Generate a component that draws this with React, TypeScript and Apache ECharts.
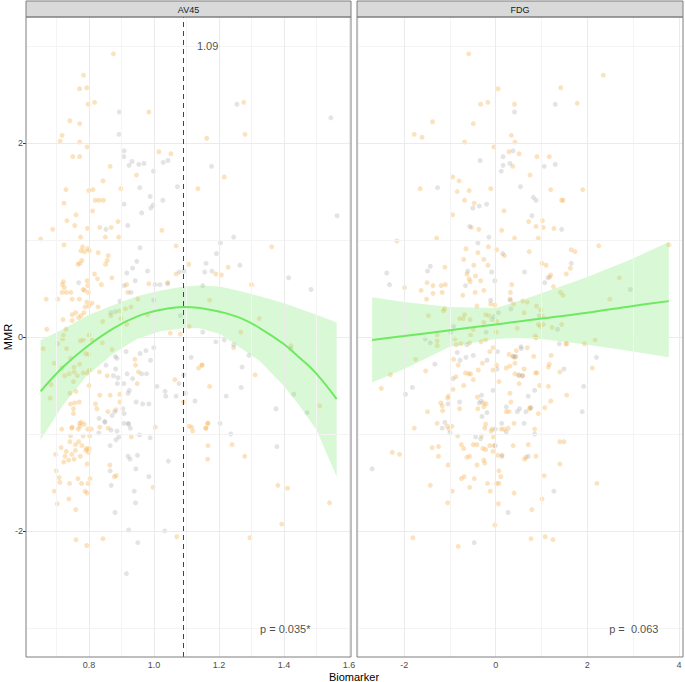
import React, { useEffect, useRef } from "react";
import * as echarts from "echarts";

// ---------- data ----------
const av45Orange: number[][] = [
  [0.875,2.92],[0.783,2.70],[0.771,2.56],[0.793,2.57],[0.797,2.40],[0.817,2.42],[0.984,2.32],[0.741,2.23],[0.771,2.20],[0.717,2.08],[0.711,2.02],[0.771,2.01],[0.794,1.96],[0.750,1.86],[0.771,1.86],[1.015,1.91],[1.052,1.89],[1.162,2.05],[0.865,1.76],[0.843,1.61],[0.946,1.67],[0.729,1.52],[0.812,1.52],[0.799,1.51],[0.898,1.53],[1.135,1.53],[0.723,1.38],[0.819,1.41],[0.831,1.41],[0.844,1.41],[0.811,1.30],[0.760,1.26],[0.732,1.20],[0.756,1.15],[0.889,1.19],[0.688,1.11],[0.833,1.13],[0.868,1.13],[0.795,1.12],[1.024,1.10],[0.774,1.03],[0.850,1.03],[0.891,1.03],[0.651,1.01],
  [1.276,2.42],[1.280,2.09],[1.216,1.65],[1.362,0.93],[1.190,0.65],[1.207,0.64],[1.228,0.72],[1.300,0.54],[1.171,0.38],[1.324,0.19],[1.267,0.05],
  [1.245,-0.11],[1.421,-0.09],[1.148,-0.29],[1.311,-0.39],[1.171,-0.51],[1.510,-0.71],[1.166,-0.89],[1.160,-0.94],[1.166,-1.12],[1.240,-1.11],[1.279,-1.23],[1.165,-1.26],[1.381,-1.53],[1.411,-1.56],[1.540,-1.71],[1.393,-1.93],[1.295,-2.07],
  [0.716,-0.95],[0.747,-0.94],[0.771,-0.89],[0.785,-0.90],[0.767,-0.95],[0.796,-0.95],[0.807,-0.95],[0.802,-1.02],[0.782,-1.02],[0.833,-0.93],[0.859,-0.94],[1.004,-0.93],[0.930,-1.03],[0.743,-1.02],[0.741,-1.08],[0.758,-1.11],[0.768,-1.08],[0.778,-1.12],[0.792,-1.15],[0.800,-1.15],[0.798,-1.19],[0.790,-1.17],[0.714,-1.14],[0.730,-1.18],[0.697,-1.21],[0.726,-1.23],[0.747,-1.21],[0.758,-1.17],[0.737,-1.27],[0.722,-1.29],[0.754,-1.26],[0.773,-1.23],[0.794,-1.31],[0.864,-1.32],[0.699,-1.38],[0.708,-1.45],[0.710,-1.50],[0.740,-1.51],[0.766,-1.46],[0.777,-1.51],[0.797,-1.51],[0.803,-1.46],[0.878,-1.44],[0.884,-1.43],[0.997,-1.55],[0.693,-1.59],[0.788,-1.59],[0.794,-1.61],[0.702,-1.72],[0.738,-1.67],[0.759,-1.78],[1.070,-2.06],[0.760,-2.09],[0.843,-2.08],[0.793,-2.15],[1.108,-0.92],[1.116,-0.93],[1.119,-0.97],[1.159,-0.94],[1.165,-0.89],
  [0.723,0.95],[0.775,0.89],[0.786,0.88],[0.796,0.91],[0.801,0.89],[0.780,0.93],[0.828,0.87],[0.859,0.84],[0.856,0.79],[0.778,0.79],[0.766,0.75],[0.772,0.76],[0.851,0.75],[1.068,0.94],[1.107,0.75],[0.817,0.65],[0.826,0.60],[0.838,0.54],[0.794,0.58],[0.796,0.53],[0.782,0.49],[0.798,0.46],[0.721,0.57],[0.718,0.54],[0.717,0.46],[0.730,0.46],[0.744,0.46],[0.724,0.51],[0.704,0.39],[0.668,0.39],[0.748,0.39],[0.770,0.39],[0.786,0.48],[0.870,0.61],[0.916,0.54],[0.984,0.55],[0.919,0.46],[1.042,0.56],[1.068,0.65],[0.793,0.36],[0.809,0.35],[0.800,0.32],[0.828,0.31],[0.788,0.31],[0.784,0.25],[0.775,0.22],[0.768,0.20],[0.759,0.25],[0.748,0.23],[0.748,0.17],[0.720,0.18],[0.729,0.08],[0.670,0.08],[0.893,0.27],[0.912,0.29],[0.867,0.22],[0.842,0.16],[0.929,0.31],[0.898,0.19],[0.916,0.13],[0.950,0.39],[0.980,0.23],[0.721,0.02],[0.719,-0.02],[0.704,-0.07],[0.731,-0.12],[0.773,-0.04],[0.782,-0.03],[0.800,0.02],[0.809,-0.03],[0.659,-0.12],[0.693,-0.27],[0.716,-0.32],[0.683,-0.49],[0.680,-0.63],[0.743,-0.22],[0.754,-0.31],[0.771,-0.28],[0.764,-0.40],[0.754,-0.36],[0.739,-0.38],[0.725,-0.40],[0.752,-0.46],[0.782,-0.37],[0.795,-0.37],[0.801,-0.34],[0.789,-0.17],[0.798,-0.18],[0.841,-0.06],[0.871,-0.13],[0.832,-0.36],[0.856,-0.40],[0.941,-0.23],[0.943,-0.29],[0.948,-0.48],[0.800,-0.50],[0.760,-0.56],[0.741,-0.58],[0.833,-0.60],[0.865,-0.60],[0.770,-0.67],[0.756,-0.68],[0.743,-0.69],[0.752,-0.79],[0.752,-0.74],[0.820,-0.69],[0.824,-0.74],[0.858,-0.77],[0.883,-0.75],[0.776,-0.88],[0.748,-0.93],[0.772,-0.92],[0.895,-0.59],[0.895,-0.67],[0.952,-0.36],[1.064,-0.44],[1.137,-0.32],[1.147,-0.29],[1.090,-0.67],[1.081,0.03],[1.050,0.04],[1.108,0.11],
];

const av45Gray: number[][] = [
  [0.893,2.32],[0.892,2.09],[0.908,1.92],[0.907,1.86],[0.932,1.81],[0.923,1.77],[0.953,1.78],[0.969,1.79],[1.028,1.80],[1.043,1.82],[1.177,1.76],[0.998,1.71],[0.956,1.54],[1.072,1.55],[0.908,1.37],[0.988,1.45],[0.997,1.36],[0.990,1.33],[1.027,1.41],[0.962,1.28],[0.919,1.15],[0.852,1.11],
  [1.255,2.40],[1.544,2.26],[1.563,1.25],[1.245,1.03],[1.204,0.97],[1.192,0.86],[1.160,0.76],[1.156,0.67],[1.264,0.74],[1.414,0.61],[1.483,0.49],[1.150,0.05],
  [1.190,-0.05],[1.216,-0.03],[1.245,-0.08],[1.292,-0.19],[1.421,-0.12],[1.271,-0.31],[1.268,-0.52],[1.222,-0.61],[1.430,-0.59],[1.375,-0.74],[1.471,-0.78],[1.203,-0.89],[1.236,-1.00],[1.378,-1.13],
  [0.849,-0.88],[0.907,-0.89],[0.922,-0.90],[0.927,-0.94],[0.830,-0.99],[0.868,-0.96],[0.886,-0.97],[0.955,-1.01],[0.988,-1.04],[0.892,-1.03],[0.883,-1.06],[0.865,-1.12],[0.926,-1.26],[0.920,-1.23],[0.949,-1.22],[1.044,-1.28],[0.865,-1.38],[0.944,-1.36],[0.984,-1.44],[0.868,-1.53],[0.939,-1.59],[0.943,-1.71],[0.880,-1.81],[0.922,-1.99],[1.033,-2.00],[0.950,-2.12],[0.915,-2.44],
  [0.957,0.92],[0.947,0.78],[0.934,0.71],[0.916,0.66],[0.980,0.68],[0.942,0.58],[0.908,0.53],[0.929,0.46],[0.895,0.37],[0.867,0.25],[0.881,0.26],[0.768,0.56],[1.003,0.54],[1.018,0.54],[1.042,0.55],[1.078,0.67],[1.092,0.68],[1.178,0.68],[1.150,0.53],[0.999,0.38],[1.081,0.22],[0.881,-0.20],[0.886,-0.22],[0.914,-0.15],[0.957,-0.17],[0.975,-0.14],[0.999,-0.11],[0.989,-0.24],[0.852,-0.29],[0.875,-0.40],[0.882,-0.33],[0.889,-0.42],[0.917,-0.38],[0.934,-0.43],[0.962,-0.38],[0.977,-0.38],[0.907,-0.48],[0.887,-0.48],[0.924,-0.55],[0.920,-0.58],[1.009,-0.51],[1.034,-0.56],[1.036,-0.61],[1.068,-0.61],[0.965,-0.69],[0.984,-0.69],[0.945,-0.67],[1.097,-0.58],[1.126,-0.66],[0.879,-0.77],[0.871,-0.81],[0.904,-0.74],[0.908,-0.79],[0.920,-0.89],[0.848,-0.87],[0.831,-0.84],[1.114,-0.21],[1.091,-0.39],[1.077,-0.48],
];

const fdgOrange: number[][] = [
  [-0.59,2.92],[0.05,2.56],[-0.33,2.40],[-0.17,2.42],[0.41,2.40],[-1.38,2.22],[-0.49,2.20],[-1.78,2.09],[-1.61,2.06],[-0.68,2.01],[0.34,2.08],[0.42,2.01],[-0.04,1.96],[0.29,1.91],[0.51,1.89],[0.37,1.76],[-0.94,1.65],[-0.80,1.61],[-1.65,1.53],[-0.84,1.50],[-0.58,1.51],[-0.11,1.53],[-0.68,1.41],[-0.47,1.38],[-0.94,1.26],[0.18,1.30],[-0.53,1.13],[-0.37,1.11],[0.13,1.10],[-2.16,0.99],[-1.29,1.02],[0.41,1.02],[-0.65,0.91],[-0.16,0.93],[0.02,0.90],[0.19,0.84],[-0.39,0.87],[-0.70,0.80],[-0.26,0.80],[-0.48,0.74],[-0.17,0.74],[-1.11,0.72],[-0.63,0.65],[-0.58,0.60],[-0.56,0.57],[-0.44,0.63],[-0.33,0.58],[-1.50,0.56],[-1.37,0.53],[-1.19,0.53],[-1.10,0.54],[-1.99,0.51],[-1.63,0.48],[-1.37,0.45],[-1.17,0.46],[-1.51,0.39],[-0.72,0.43],[-0.45,0.46],[-0.26,0.48],[-0.41,0.32],[0.35,0.54],[0.32,0.46],[-1.12,0.29],[-1.14,0.27],[-1.47,0.22],[-0.68,0.23],[-0.79,0.19],[-0.71,0.19],[-0.56,0.18],[-0.22,0.23],[-0.15,0.22],[-0.26,0.15],[-0.11,0.34],[-0.02,0.33],[0.02,0.16],[0.31,0.39],[0.39,0.34],[0.47,0.09],[0.01,0.05],[-0.49,0.08],[-0.55,0.02],[-1.28,0.02],
  [2.35,2.70],[1.42,2.57],[1.78,2.41],[0.90,1.86],[1.17,1.86],[0.75,1.67],[1.20,1.52],[1.90,1.52],[1.44,1.41],[1.47,1.41],[0.72,1.19],[0.88,1.14],[1.02,1.20],[1.04,1.13],[1.27,1.12],[0.93,1.02],[2.25,0.94],[3.78,0.95],[0.73,0.88],[1.65,0.90],[1.73,0.88],[1.01,0.76],[1.10,0.74],[1.63,0.71],[1.20,0.64],[1.18,0.62],[1.54,0.65],[1.26,0.52],[2.70,0.61],[2.49,0.39],[1.41,0.46],[1.47,0.43],[0.59,0.37],[0.69,0.36],[0.89,0.32],[0.62,0.25],[0.98,0.28],[1.03,0.21],[0.93,0.13],[0.97,0.11],[1.04,0.13],[1.23,0.10],[1.44,0.13],[0.86,0.01],
  [-1.28,-0.04],[-1.28,-0.09],[-0.89,-0.02],[-0.86,-0.08],[-0.76,-0.07],[-0.57,-0.06],[-0.32,-0.05],[-0.22,-0.03],[-1.75,-0.23],[-1.53,-0.35],[-2.30,-0.39],[-2.50,-0.53],[-0.92,-0.23],[-0.82,-0.29],[-0.87,-0.41],[-0.93,-0.54],[-0.70,-0.50],[-0.49,-0.44],[-0.66,-0.37],[-0.59,-0.38],[-0.55,-0.38],[-0.13,-0.15],[-0.06,-0.11],[-0.29,-0.27],[0.02,-0.29],[-0.06,-0.34],[-0.38,-0.34],[0.07,-0.46],[0.29,-0.18],[0.45,-0.14],[0.69,-0.11],[0.42,-0.21],[0.37,-0.20],[0.31,-0.30],[0.23,-0.32],[0.42,-0.27],[0.62,-0.33],[0.50,-0.40],[0.59,-0.40],[0.42,-0.38],[0.51,-0.48],[0.88,-0.01],[0.83,-0.20],[0.90,-0.37],[0.87,-0.37],[1.21,-0.19],[1.17,-0.28],[1.15,-0.31],[1.40,-0.36],[1.55,-0.07],[1.53,-0.07],[1.94,-0.07],[2.17,-0.03],[2.11,-0.32],[0.96,-0.50],[1.15,-0.51],[1.55,-0.60],[1.20,-0.66],[0.31,-0.58],[0.33,-0.67],[0.23,-0.77],[0.29,-0.77],[0.40,-0.89],[0.74,-0.74],[0.93,-0.79],[1.07,-0.73],[0.85,-0.95],[0.75,-0.73],[-1.03,-0.61],[-1.05,-0.63],[-1.20,-0.68],[-1.17,-0.71],[-1.16,-0.76],[-1.49,-0.77],[-1.06,-0.92],[-1.02,-0.95],[-0.96,-0.92],[-1.28,-0.89],[-0.83,-1.02],[-0.79,-0.74],[-0.40,-0.62],[-0.27,-0.68],[-0.21,-0.69],[-0.26,-0.72],[-0.39,-0.74],[-0.22,-0.90],[-0.24,-0.94],[-0.31,-1.02],[-0.08,-0.95],[-0.10,-0.97],[-0.05,-1.03],[-0.04,-1.12],[-0.13,-1.12],[0.12,-0.95],[0.18,-0.95],[0.27,-0.94],[-1.78,-0.94],[-1.39,-1.14],[-1.25,-1.13],[-1.25,-1.23],[-0.75,-1.11],[-0.70,-1.15],[-0.63,-1.24],[-0.57,-1.23],[-0.49,-1.11],[-0.41,-1.11],[-0.28,-1.15],[-0.22,-1.16],[-0.41,-1.32],[-0.26,-1.27],[-0.24,-1.30],[-0.06,-1.18],[0.04,-1.22],[0.13,-1.23],[0.38,-1.12],[0.71,-1.11],[0.63,-1.26],[0.66,-1.24],[0.88,-1.23],[1.40,-1.08],[1.49,-1.08],[1.40,-1.31],[-2.10,-1.21],[-2.26,-1.19],[-1.43,-1.53],[-1.04,-1.32],[-0.75,-1.46],[-0.69,-1.44],[-0.47,-1.46],[-0.57,-1.55],[-0.18,-1.51],[0.02,-1.51],[0.07,-1.51],[0.07,-1.38],[0.11,-1.44],[-0.12,-1.59],[-0.95,-1.59],[-1.05,-1.71],[0.40,-1.61],[0.06,-1.72],[-0.02,-1.94],[0.79,-1.78],[1.06,-1.43],[1.01,-1.67],[2.21,-1.51],[-1.81,-2.07],[-0.82,-2.16],[0.77,-2.08],[1.08,-2.06],[1.25,-2.09],
];

const fdgGray: number[][] = [
  [0.41,2.32],[-0.34,1.82],[0.16,1.86],[0.16,1.77],[0.31,1.79],[0.12,1.71],[0.38,1.92],[-1.27,1.54],[0.54,1.55],[-0.50,1.33],[-0.36,1.35],[-0.20,1.37],[-0.57,1.14],[-0.15,1.03],[-0.39,0.97],[0.15,0.86],[-1.43,0.73],[-1.49,0.68],[-0.61,0.68],[-0.09,0.67],[-0.02,0.58],[-0.66,0.53],[-2.38,0.66],[-2.32,0.54],[-0.11,0.38],[0.32,0.38],[0.33,0.29],[0.06,0.25],[-0.04,0.21],[-0.08,0.18],[-0.92,0.11],[-0.98,0.05],[-0.21,0.05],
  [1.30,2.40],[1.06,1.76],[1.30,1.78],[0.82,1.44],[0.88,1.41],[0.79,1.25],[1.44,1.11],[0.63,0.67],[1.65,0.76],[1.07,0.56],[1.14,0.61],[2.94,0.49],[0.95,0.22],[1.35,0.08],
  [-0.84,-0.16],[-0.63,-0.08],[-0.49,-0.19],[-0.65,-0.21],[-0.19,-0.24],[0.04,-0.15],[-0.06,-0.55],[0.03,-0.33],[-0.78,-0.24],[-0.93,-0.43],[-1.33,-0.28],[-1.43,-0.06],[-1.54,-0.02],[-1.97,-0.59],[-1.82,-0.52],[0.55,-0.10],[0.56,-0.12],[0.39,-0.20],[0.44,-0.20],[0.51,-0.39],[0.58,-0.40],[1.39,-0.07],[1.49,-0.33],[2.20,-0.21],[1.92,-0.51],[0.85,-0.55],[0.71,-0.61],[-0.31,-0.60],[-0.32,-0.66],[-0.36,-0.68],[-0.30,-0.82],[-0.19,-0.78],[-0.79,-0.67],[-1.04,-0.69],[-1.11,-0.88],[-1.17,-0.94],[-1.00,-0.99],[0.23,-0.72],[0.52,-0.74],[0.47,-0.77],[0.66,-0.77],[0.77,-0.73],[0.62,-0.89],[0.85,-1.00],[0.13,-0.89],[0.14,-1.22],[0.23,-0.98],[-0.01,-0.95],[-0.01,-1.12],[-0.33,-1.05],[-0.44,-1.03],[0.71,-1.23],[1.89,-0.77],[1.27,-1.59],[0.27,-1.81],[-0.47,-2.12],[-2.70,-1.36],
];

// smooth fits
const av45FitX = [0.651, 0.72, 0.793, 0.875, 0.947, 1.02, 1.09, 1.141, 1.203, 1.27, 1.326, 1.398, 1.45, 1.5, 1.562];
const av45Fit = [-0.56, -0.31, -0.10, 0.09, 0.21, 0.28, 0.31, 0.30, 0.26, 0.19, 0.09, -0.07, -0.22, -0.38, -0.64];
const av45Upper = [-0.03, 0.08, 0.22, 0.33, 0.42, 0.48, 0.52, 0.53, 0.52, 0.47, 0.42, 0.35, 0.29, 0.23, 0.15];
const av45Lower = [-1.06, -0.70, -0.40, -0.17, -0.02, 0.06, 0.09, 0.09, 0.03, -0.12, -0.25, -0.50, -0.72, -0.96, -1.44];

const fdgFitX = [-2.70, -2.0, -1.0, 0, 0.5, 1.0, 2.0, 3.0, 3.78];
const fdgFit = [-0.03, 0.01, 0.07, 0.13, 0.16, 0.19, 0.25, 0.32, 0.37];
const fdgUpper = [0.41, 0.36, 0.31, 0.30, 0.37, 0.45, 0.62, 0.81, 0.98];
const fdgLower = [-0.47, -0.33, -0.10, -0.02, -0.01, -0.02, -0.08, -0.15, -0.21];

// axes
const av45XTicks = [0.8, 1.0, 1.2, 1.4, 1.6];
const av45XMinor = [0.7, 0.9, 1.1, 1.3, 1.5];
const fdgXTicks = [-2, 0, 2, 4];
const fdgXMinor = [-3, -1, 1, 3];
const yTicks = [-2, 0, 2];
const yMinor = [-3, -1, 1, 3];
const threshold = 1.09;
const pLabels = ["p = 0.035*", "p =  0.063"];
const panelNames = ["AV45", "FDG"];

const FONT = "'Liberation Sans', Arial, Helvetica, sans-serif";
const ORANGE = "rgba(245,168,60,0.4)";
const GRAY = "rgba(150,150,150,0.32)";
const GREEN = "#6FE862";
const BAND = "rgba(130,235,120,0.3)";

const P = [
  { left: 26, top: 17, width: 325, height: 640 },
  { left: 357, top: 17, width: 326, height: 640 },
];

function gridLines(idx: number, xMajor: number[], xMinor: number[]) {
  const maj = { color: "#EBEBEB", width: 1, type: "solid" };
  const min = { color: "#F4F4F4", width: 1, type: "solid" };
  return {
    type: "line",
    xAxisIndex: idx,
    yAxisIndex: idx,
    data: [],
    z: 1,
    silent: true,
    markLine: {
      silent: true,
      symbol: ["none", "none"],
      label: { show: false },
      animation: false,
      data: [
        ...xMinor.map((v) => ({ xAxis: v, lineStyle: min })),
        ...yMinor.map((v) => ({ yAxis: v, lineStyle: min })),
        ...xMajor.map((v) => ({ xAxis: v, lineStyle: maj })),
        ...yTicks.map((v) => ({ yAxis: v, lineStyle: maj })),
      ],
    },
  };
}

function band(idx: number, xs: number[], lo: number[], hi: number[]) {
  return {
    type: "custom",
    xAxisIndex: idx,
    yAxisIndex: idx,
    z: 4,
    silent: true,
    data: xs.map((x, i) => [x, lo[i], hi[i]]),
    encode: { x: 0, y: [1, 2] },
    renderItem: (params: any, api: any) => {
      if (params.dataIndex !== 0) return null;
      const top = xs.map((x, i) => api.coord([x, hi[i]]));
      const bot = xs.map((x, i) => api.coord([x, lo[i]])).reverse();
      return { type: "polygon", shape: { points: top.concat(bot) }, style: { fill: BAND } };
    },
  };
}

function fit(idx: number, xs: number[], ys: number[]) {
  return {
    type: "line",
    xAxisIndex: idx,
    yAxisIndex: idx,
    z: 5,
    silent: true,
    data: xs.map((x, i) => [x, ys[i]]),
    showSymbol: false,
    smooth: 0.4,
    lineStyle: { color: GREEN, width: 2 },
  };
}

function pts(idx: number, data: number[][], color: string) {
  return {
    type: "scatter",
    xAxisIndex: idx,
    yAxisIndex: idx,
    z: 3,
    silent: true,
    symbolSize: 5,
    data,
    itemStyle: { color },
  };
}

function textAt(idx: number, x: number, y: number, text: string) {
  return {
    type: "scatter",
    xAxisIndex: idx,
    yAxisIndex: idx,
    z: 7,
    silent: true,
    symbolSize: 0,
    data: [[x, y]],
    label: {
      show: true,
      position: "right",
      distance: 0,
      formatter: text,
      color: "#1A1A1A",
      fontSize: 11,
      fontFamily: FONT,
    },
  };
}

function xAxis(idx: number, min: number, max: number, ticks: number[], dec: number) {
  return {
    type: "value",
    gridIndex: idx,
    min,
    max,
    axisLine: { show: false },
    splitLine: { show: false },
    axisTick: { show: true, length: 3, lineStyle: { color: "#333333", width: 1 }, customValues: ticks },
    axisLabel: {
      customValues: ticks,
      formatter: (v: number) => v.toFixed(dec),
      color: "#4D4D4D",
      fontSize: 9,
      fontFamily: FONT,
      margin: 3,
    },
  };
}

function yAxis(idx: number, labels: boolean) {
  return {
    type: "value",
    gridIndex: idx,
    min: -3.3,
    max: 3.3,
    axisLine: { show: false },
    splitLine: { show: false },
    axisTick: { show: labels, length: 3, lineStyle: { color: "#333333", width: 1 }, customValues: yTicks },
    axisLabel: {
      show: labels,
      customValues: yTicks,
      formatter: (v: number) => String(v),
      color: "#4D4D4D",
      fontSize: 9,
      fontFamily: FONT,
      margin: 3,
    },
  };
}

export default function App() {
  const ref = useRef<HTMLDivElement>(null);
  useEffect(() => {
    if (!ref.current) return;
    const chart = echarts.init(ref.current, null, { renderer: "svg" });
    const graphics: any[] = [];
    P.forEach((p, i) => {
      graphics.push({
        type: "rect",
        z: 100,
        silent: true,
        shape: { x: p.left, y: 1, width: p.width, height: 16 },
        style: { fill: "#D9D9D9", stroke: "#7F7F7F", lineWidth: 1 },
      });
      graphics.push({
        type: "text",
        z: 101,
        silent: true,
        style: {
          x: p.left + p.width / 2,
          y: 9.5,
          text: panelNames[i],
          align: "center",
          verticalAlign: "middle",
          fill: "#1A1A1A",
          font: `9px ${FONT}`,
        },
      });
      graphics.push({
        type: "rect",
        z: 100,
        silent: true,
        shape: { x: p.left, y: p.top, width: p.width, height: p.height },
        style: { fill: "none", stroke: "#7F7F7F", lineWidth: 1 },
      });
    });
    graphics.push({
      type: "text",
      z: 101,
      silent: true,
      x: 8,
      y: 337,
      rotation: Math.PI / 2,
      style: { x: 0, y: 0, text: "MMR", align: "center", verticalAlign: "middle", fill: "#000", font: `11px ${FONT}` },
    });
    graphics.push({
      type: "text",
      z: 101,
      silent: true,
      style: { x: 354, y: 677, text: "Biomarker", align: "center", verticalAlign: "middle", fill: "#000", font: `11px ${FONT}` },
    });

    chart.setOption({
      animation: false,
      backgroundColor: "#FFFFFF",
      grid: P.map((p) => ({ ...p, containLabel: false })),
      xAxis: [xAxis(0, 0.606, 1.606, av45XTicks, 1), xAxis(1, -3.03, 4.09, fdgXTicks, 0)],
      yAxis: [yAxis(0, true), yAxis(1, false)],
      graphic: graphics,
      series: [
        gridLines(0, av45XTicks, av45XMinor),
        gridLines(1, fdgXTicks, fdgXMinor),
        pts(0, av45Orange, ORANGE),
        pts(0, av45Gray, GRAY),
        pts(1, fdgOrange, ORANGE),
        pts(1, fdgGray, GRAY),
        band(0, av45FitX, av45Lower, av45Upper),
        band(1, fdgFitX, fdgLower, fdgUpper),
        fit(0, av45FitX, av45Fit),
        fit(1, fdgFitX, fdgFit),
        {
          type: "line",
          xAxisIndex: 0,
          yAxisIndex: 0,
          data: [],
          z: 6,
          silent: true,
          markLine: {
            silent: true,
            symbol: ["none", "none"],
            label: { show: false },
            animation: false,
            data: [{ xAxis: threshold, lineStyle: { color: "#444444", width: 1, type: [5, 4] } }],
          },
        },
        textAt(0, 1.132, 3.0, String(threshold)),
        textAt(0, 1.326, -3.01, pLabels[0]),
        textAt(1, 2.478, -3.01, pLabels[1]),
      ],
    });
    return () => chart.dispose();
  }, []);
  return (
    <div
      ref={ref}
      style={{ position: "fixed", left: 0, top: 0, width: 685, height: 682 }}
    />
  );
}
